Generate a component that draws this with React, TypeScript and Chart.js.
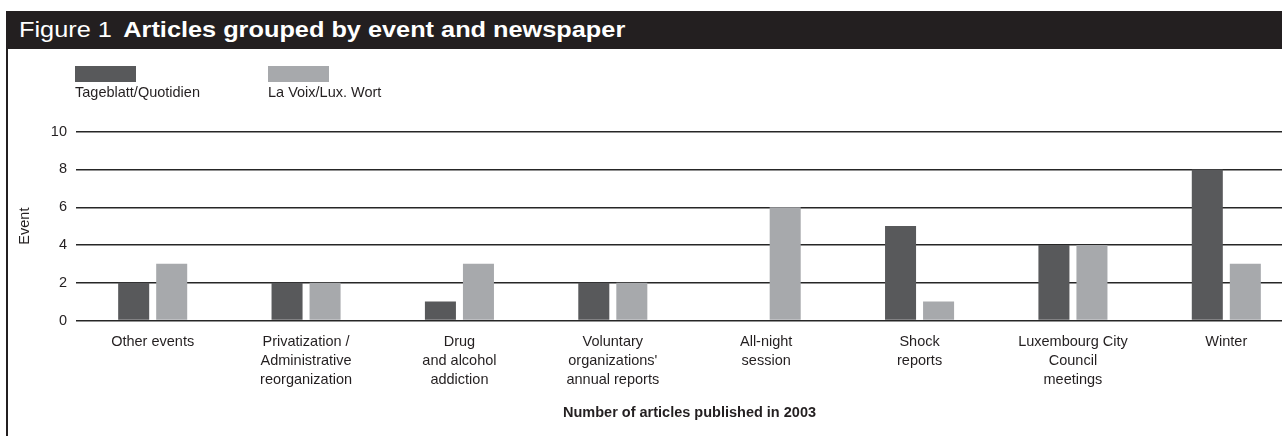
import React, { useEffect, useRef } from "react";
import { Chart, registerables } from "chart.js";

Chart.register(...registerables);

const categories: (string | string[])[] = [
  "Other events",
  ["Privatization /", "Administrative", "reorganization"],
  ["Drug", "and alcohol", "addiction"],
  ["Voluntary", "organizations'", "annual reports"],
  ["All-night", "session"],
  ["Shock", "reports"],
  ["Luxembourg City", "Council", "meetings"],
  "Winter",
];

const seriesNames = ["Tageblatt/Quotidien", "La Voix/Lux. Wort"];
const tageblatt = [2, 2, 1, 2, 0, 5, 4, 8];
const laVoix = [3, 2, 3, 2, 6, 1, 4, 3];

const yMin = 0;
const yMax = 10;
const yStep = 2;

const titlePrefix = "Figure 1";
const titleMain = "Articles grouped by event and newspaper";
const xTitle = "Number of articles published in 2003";
const yTitle = "Event";

const DARK = "#58595b";
const LIGHT = "#a7a9ac";
const INK = "#231f20";
const FONT = "'Liberation Sans', Arial, Helvetica, sans-serif";
const FS = 14.5;

export default function App() {
  const ref = useRef<HTMLCanvasElement | null>(null);

  useEffect(() => {
    if (!ref.current) return;
    const chart = new Chart(ref.current, {
      type: "bar",
      data: {
        labels: categories,
        datasets: [
          {
            label: seriesNames[0],
            data: tageblatt,
            backgroundColor: DARK,
            borderWidth: 0,
            categoryPercentage: 0.4958,
            barPercentage: 0.8158,
          },
          {
            label: seriesNames[1],
            data: laVoix,
            backgroundColor: LIGHT,
            borderWidth: 0,
            categoryPercentage: 0.4958,
            barPercentage: 0.8158,
          },
        ],
      },
      options: {
        responsive: false,
        animation: false,
        devicePixelRatio: 1,
        layout: { padding: { top: 131.7, left: 0, right: 7, bottom: 0 } },
        plugins: {
          legend: { display: false },
          tooltip: { enabled: false },
          title: { display: false },
        },
        font: { family: FONT },
        scales: {
          x: {
            grid: { display: false, drawTicks: false },
            border: { display: false },
            ticks: {
              autoSkip: false,
              maxRotation: 0,
              minRotation: 0,
              padding: 12,
              color: INK,
              font: { family: FONT, size: FS, lineHeight: 19 / FS },
            },
            title: {
              display: true,
              text: xTitle,
              color: INK,
              font: { family: FONT, size: FS, weight: "bold" },
              padding: { top: 0, bottom: 14.3 },
            },
            afterFit: (scale: any) => {
              scale.height = 436 - 320.5;
            },
          },
          y: {
            min: yMin,
            max: yMax,
            z: 1,
            grid: { color: "#262626", lineWidth: 1.4, drawTicks: false },
            border: { display: false },
            ticks: {
              stepSize: yStep,
              padding: 9,
              color: INK,
              font: { family: FONT, size: FS },
            },
            title: {
              display: true,
              text: yTitle,
              color: INK,
              font: { family: FONT, size: FS },
              padding: { top: 16, bottom: 0 },
            },
            afterFit: (scale: any) => {
              scale.width = 76;
            },
          },
        },
      } as any,
    });
    return () => chart.destroy();
  }, []);

  return (
    <div
      style={{
        position: "absolute",
        left: 0,
        top: 0,
        width: 1282,
        height: 436,
        overflow: "hidden",
        background: "#fff",
        fontFamily: FONT,
        color: INK,
      }}
    >
      <div
        style={{
          position: "absolute",
          left: 6,
          top: 11,
          width: 1300,
          height: 440,
          borderLeft: `2px solid ${INK}`,
        }}
      />
      <div
        style={{
          position: "absolute",
          left: 6,
          top: 11,
          width: 1300,
          height: 38,
          background: INK,
          color: "#fff",
          display: "flex",
          alignItems: "center",
          whiteSpace: "nowrap",
        }}
      >
        <span
          style={{
            display: "inline-block",
            marginLeft: 13,
            fontSize: 22,
            transform: "scaleX(1.15)",
            transformOrigin: "left center",
          }}
        >
          <span>{titlePrefix}</span>
          <span style={{ fontWeight: "bold", marginLeft: 10 }}>{titleMain}</span>
        </span>
      </div>
      <canvas
        ref={ref}
        width={1310}
        height={436}
        style={{ position: "absolute", left: 0, top: 0, width: 1310, height: 436 }}
      />
      <div style={{ position: "absolute", left: 75, top: 66, width: 61, height: 16, background: DARK }} />
      <div style={{ position: "absolute", left: 268, top: 66, width: 61, height: 16, background: LIGHT }} />
      <div style={{ position: "absolute", left: 75, top: 84, fontSize: FS, lineHeight: "16px", whiteSpace: "nowrap" }}>
        {seriesNames[0]}
      </div>
      <div style={{ position: "absolute", left: 268, top: 84, fontSize: FS, lineHeight: "16px", whiteSpace: "nowrap" }}>
        {seriesNames[1]}
      </div>
    </div>
  );
}
